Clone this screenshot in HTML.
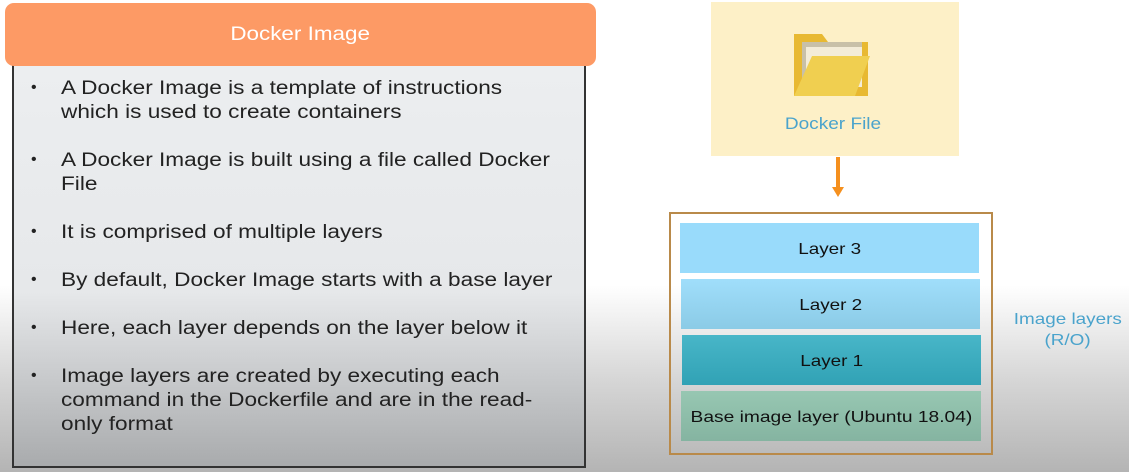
<!DOCTYPE html>
<html><head><style>
body{margin:0;width:1129px;height:472px;position:relative;overflow:hidden;font-family:"Liberation Sans",sans-serif;
background:linear-gradient(to bottom,#fff 0,#fff 285px,#d6d6d6 380px,#b4b4b4 472px);}
.a{position:absolute;box-sizing:border-box}
.s{display:inline-block;transform:scaleX(1.18);white-space:nowrap}
.hdr{left:5px;top:3px;width:591px;height:63px;background:#fd9a65;border-radius:9px;color:#fff;font-size:19px;text-align:center;line-height:64px;z-index:2}
.body{left:12px;top:60px;width:574px;height:408px;border:2px solid #333;background:linear-gradient(to bottom,#eceef0 0,#e6e8ea 230px,#a9abad 100%)}
.li{position:absolute;left:61px;font-size:19px;line-height:24px;color:#222;width:420px;transform:scaleX(1.19);transform-origin:left}
.bl{position:absolute;left:31px;font-size:16px;color:#222}
.layer{position:absolute;text-align:center;font-size:16px;color:#111;line-height:53px;height:50px}
</style></head><body>
<div class="a hdr"><span class="s">Docker Image</span></div>
<div class="a body"></div>
<div class="li" style="top:77px">A Docker Image is a template of instructions<br>which is used to create containers</div>
<div class="li" style="top:149px">A Docker Image is built using a file called Docker<br>File</div>
<div class="li" style="top:221px">It is comprised of multiple layers</div>
<div class="li" style="top:269px">By default, Docker Image starts with a base layer</div>
<div class="li" style="top:317px">Here, each layer depends on the layer below it</div>
<div class="li" style="top:365px">Image layers are created by executing each<br>command in the Dockerfile and are in the read-<br>only format</div>
<div class="bl" style="top:79px">•</div>
<div class="bl" style="top:151px">•</div>
<div class="bl" style="top:223px">•</div>
<div class="bl" style="top:271px">•</div>
<div class="bl" style="top:319px">•</div>
<div class="bl" style="top:367px">•</div>

<div class="a" style="left:711px;top:2px;width:248px;height:154px;background:#fdf0c7"></div>
<svg class="a" style="left:792px;top:32px" width="80" height="66" viewBox="0 0 80 66">
<path d="M2 2h28l6 8h40v54H2z" fill="#e8b932"/>
<rect x="10" y="10" width="60" height="40" fill="#c8c0a8"/>
<rect x="14" y="15" width="56" height="40" fill="#f3ecd8"/>
<path d="M2 64 L20 24 H78 L63 64Z" fill="#f0cf50"/>
</svg>
<div class="a" style="left:711px;top:114px;width:244px;text-align:center;color:#4aa3cc;font-size:17px"><span class="s" style="transform:scaleX(1.12)">Docker File</span></div>
<div class="a" style="left:836px;top:157px;width:4px;height:32px;background:#f5901e"></div>
<div class="a" style="left:832px;top:187px;width:0;height:0;border-left:6px solid transparent;border-right:6px solid transparent;border-top:10px solid #f5901e"></div>
<div class="a" style="left:669px;top:212px;width:324px;height:243px;border:2px solid #b98a4a"></div>
<div class="layer" style="left:680px;top:223px;width:299px;background:#99dbfb"><span class="s">Layer 3</span></div>
<div class="layer" style="left:681px;top:279px;width:299px;background:linear-gradient(#a0defb,#8bcbe6)"><span class="s">Layer 2</span></div>
<div class="layer" style="left:682px;top:335px;width:299px;background:linear-gradient(#48b6c8,#31a2b5)"><span class="s">Layer 1</span></div>
<div class="layer" style="left:681px;top:391px;width:300px;background:linear-gradient(#97c7b2,#85b4a1)"><span class="s" style="transform:scaleX(1.2)">Base image layer (Ubuntu 18.04)</span></div>
<div class="a" style="left:1008px;top:309px;width:120px;text-align:center;color:#4aa3cc;font-size:16px;line-height:21px"><span class="s">Image layers</span><br><span class="s">(R/O)</span></div>
</body></html>
